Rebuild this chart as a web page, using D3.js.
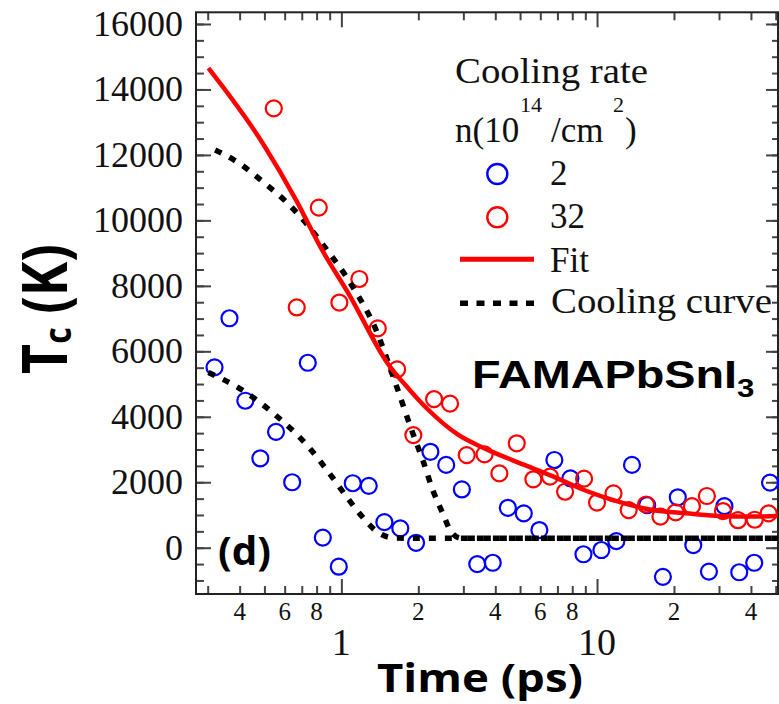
<!DOCTYPE html>
<html>
<head>
<meta charset="utf-8">
<script src="https://cdn.jsdelivr.net/npm/d3@7"></script>
<style>
  html, body { margin: 0; padding: 0; background: #fff; }
  svg { display: block; }
</style>
</head>
<body>
<div id="chart"></div>
<script>
// measured data, time in ps, temperature in K
const blueTime = [0.319, 0.365, 0.421, 0.482, 0.555, 0.642, 0.739, 0.846, 0.977, 1.108, 1.28, 1.473, 1.70, 1.96,
    2.23, 2.57, 2.96, 3.40, 3.91, 4.48, 5.17, 5.95, 6.81, 7.87, 8.85, 10.4, 11.9, 13.7, 15.7, 18.1, 20.7, 23.8,
    27.4, 31.5, 36.0, 41.2, 47.5];
const blueTemp = [5510, 7010, 4490, 2730, 3540, 2000, 5650, 310, -580, 1970, 1890, 780, 590, 150,
    2930, 2530, 1780, -500, -460, 1220, 1050, 540, 2680, 2120, -200, -70, 200, 2530, 1300, -890, 1540, 80,
    -730, 1270, -750, -460, 1990];

const redTime = [0.544, 0.669, 0.816, 0.982, 1.176, 1.388, 1.652, 1.912, 2.305, 2.661, 3.093, 3.631, 4.15, 4.853,
    5.636, 6.547, 7.50, 8.90, 10.0, 11.6, 13.3, 15.55, 17.7, 20.3, 23.5, 26.9, 31.1, 35.6, 41.4, 46.9];
const redTemp = [13420, 7340, 10390, 7490, 8210, 6700, 5450, 3440, 4540, 4400, 2830, 2850, 2270, 3190,
    2090, 2170, 1710, 2110, 1380, 1660, 1150, 1320, 950, 1080, 1270, 1580, 1120, 840, 855, 1050];

const fitTime = [0.302, 0.493, 0.665, 0.833, 1.075, 1.518, 1.85, 2.177, 2.85, 3.74, 5.2, 7.0, 9.05, 12.2, 16.5, 22.3, 30.1, 40.5, 50.9];
const fitTemp = [14650, 12350, 10620, 9150, 7720, 5630, 4820, 4230, 3460, 2990, 2530, 2120, 1740, 1400, 1150, 1050, 970, 950, 970];

const coolHiTime = [0.302, 0.399, 0.493, 0.608, 0.728, 0.858, 1.108, 1.367, 1.612, 1.902, 2.081, 2.278, 2.492, 2.686, 2.94, 3.19, 51];
const coolHiTemp = [12250, 11740, 11180, 10570, 9910, 9200, 7970, 6650, 5120, 3500, 2680, 1760, 1050, 490, 290, 290, 290];

const coolLoTime = [0.302, 0.399, 0.555, 0.761, 0.898, 1.059, 1.176, 1.408, 1.62, 1.85, 51];
const coolLoTemp = [5350, 4870, 4040, 2990, 2270, 1510, 1050, 440, 296, 290, 290];

const yMajorTicks = [0, 2000, 4000, 6000, 8000, 10000, 12000, 14000, 16000];
const yMinorTicks = d3.range(-1000, 16001, 500);
const xMajorTicks = [1, 10];
const xMinorTicks = [0.3, 0.4, 0.5, 0.6, 0.7, 0.8, 0.9, 2, 3, 4, 5, 6, 7, 8, 9, 20, 30, 40, 50];
const xMinorLabelValues = [0.4, 0.6, 0.8, 2, 4, 6, 8, 20, 40];
const xMinorLabelText = ['4', '6', '8', '2', '4', '6', '8', '2', '4'];
const xMajorLabelText = ['1', '10'];

const W = 779, H = 704;
const plotLeft = 196, plotRight = 778, plotTop = 12.3, plotBottom = 594;

const svg = d3.select('#chart').append('svg')
    .attr('width', W)
    .attr('height', H);

const x = d3.scaleLog().domain([0.27, 51.04]).range([plotLeft, plotRight]);
const y = d3.scaleLinear().domain([-1414, 16357]).range([plotBottom, plotTop]);

const serif = 'Liberation Serif, Times New Roman, serif';
const sans = 'Open Sans, Liberation Sans, Arial, sans-serif';

// axes: all ticks point inward
function styleAxis(g) {
    g.select('.domain').remove();
    g.selectAll('.tick line').attr('stroke', '#444').attr('stroke-width', 2);
}

svg.append('g').attr('transform', `translate(${plotLeft},0)`)
    .call(d3.axisLeft(y).tickValues(yMinorTicks).tickSize(-8).tickFormat(''))
    .call(styleAxis);
svg.append('g').attr('transform', `translate(${plotLeft},0)`)
    .call(d3.axisLeft(y).tickValues(yMajorTicks).tickSize(-15).tickPadding(13).tickFormat(d3.format('d')))
    .call(styleAxis)
    .call(g => g.selectAll('.tick text')
        .attr('font-family', serif).attr('font-size', 36).attr('fill', '#111'));
svg.append('g').attr('transform', `translate(${plotRight},0)`)
    .call(d3.axisRight(y).tickValues(yMinorTicks).tickSize(-6).tickFormat(''))
    .call(styleAxis);
svg.append('g').attr('transform', `translate(${plotRight},0)`)
    .call(d3.axisRight(y).tickValues(yMajorTicks).tickSize(-12).tickFormat(''))
    .call(styleAxis);

svg.append('g').attr('transform', `translate(0,${plotBottom})`)
    .call(d3.axisBottom(x).tickValues(xMinorTicks).tickSize(-8).tickFormat(''))
    .call(styleAxis);
svg.append('g').attr('transform', `translate(0,${plotBottom})`)
    .call(d3.axisBottom(x).tickValues(xMajorTicks).tickSize(-15).tickFormat(''))
    .call(styleAxis);
svg.append('g').attr('transform', `translate(0,${plotTop})`)
    .call(d3.axisTop(x).tickValues(xMinorTicks).tickSize(-8).tickFormat(''))
    .call(styleAxis);
svg.append('g').attr('transform', `translate(0,${plotTop})`)
    .call(d3.axisTop(x).tickValues(xMajorTicks).tickSize(-15).tickFormat(''))
    .call(styleAxis);

// frame
svg.append('rect')
    .attr('x', plotLeft).attr('y', plotTop)
    .attr('width', plotRight - plotLeft).attr('height', plotBottom - plotTop)
    .attr('fill', 'none').attr('stroke', '#222').attr('stroke-width', 2);

// x tick labels
svg.append('g').selectAll('text')
    .data(xMinorLabelValues)
    .join('text')
    .attr('x', d => x(d))
    .attr('y', 620)
    .attr('text-anchor', 'middle')
    .attr('font-family', serif).attr('font-size', 25).attr('fill', '#111')
    .text((d, i) => xMinorLabelText[i]);
svg.append('g').selectAll('text')
    .data(xMajorTicks)
    .join('text')
    .attr('x', d => x(d))
    .attr('y', 655)
    .attr('text-anchor', 'middle')
    .attr('font-family', serif).attr('font-size', 38).attr('fill', '#111')
    .text((d, i) => xMajorLabelText[i]);

// data points
const blue = blueTime.map((t, i) => ({ t, v: blueTemp[i] }));
const red = redTime.map((t, i) => ({ t, v: redTemp[i] }));

svg.append('g').selectAll('circle')
    .data(blue)
    .join('circle')
    .attr('cx', d => x(d.t)).attr('cy', d => y(d.v)).attr('r', 8)
    .attr('fill', 'none').attr('stroke', '#0000ff').attr('stroke-width', 2.2);
svg.append('g').selectAll('circle')
    .data(red)
    .join('circle')
    .attr('cx', d => x(d.t)).attr('cy', d => y(d.v)).attr('r', 8)
    .attr('fill', 'none').attr('stroke', '#ff0000').attr('stroke-width', 2.2);

// curves
const line = d3.line()
    .x(d => x(d[0]))
    .y(d => y(d[1]))
    .curve(d3.curveMonotoneX);

const dashStyle = g => g.attr('fill', 'none').attr('stroke', '#000')
    .attr('stroke-width', 5.5).attr('stroke-dasharray', '7,9');

const coolHi = svg.append('path')
    .datum(coolHiTime.map((t, i) => [t, coolHiTemp[i]]))
    .attr('d', line)
    .call(dashStyle);
const coolLo = svg.append('path')
    .datum(coolLoTime.map((t, i) => [t, coolLoTemp[i]]))
    .attr('d', line)
    .call(dashStyle);

// both curves share the plateau; shift the dash phase so they overlap into long dashes
function lengthAtX(node, px) {
    let lo = 0, hi = node.getTotalLength();
    for (let k = 0; k < 40; k++) {
        const mid = (lo + hi) / 2;
        if (node.getPointAtLength(mid).x < px) lo = mid; else hi = mid;
    }
    return lo;
}
const x0 = x(5);
const lenLo = lengthAtX(coolLo.node(), x0);
const lenHi = lengthAtX(coolHi.node(), x0);
coolHi.attr('stroke-dashoffset', (((lenLo - 7 - lenHi) % 16) + 16) % 16);

svg.append('path')
    .datum(fitTime.map((t, i) => [t, fitTemp[i]]))
    .attr('d', line)
    .attr('fill', 'none').attr('stroke', '#ff0000').attr('stroke-width', 4.5);

// legend
const legend = svg.append('g').attr('font-family', serif).attr('fill', '#111');
legend.append('text').attr('x', 455).attr('y', 83).attr('font-size', 35)
    .attr('textLength', 193).attr('lengthAdjust', 'spacingAndGlyphs').text('Cooling rate');
legend.append('text').attr('x', 455).attr('y', 141.7).attr('font-size', 35).text('n(10');
legend.append('text').attr('x', 520).attr('y', 112).attr('font-size', 22).text('14');
legend.append('text').attr('x', 551).attr('y', 141.7).attr('font-size', 35).text('/cm');
legend.append('text').attr('x', 613).attr('y', 112).attr('font-size', 22).text('2');
legend.append('text').attr('x', 625).attr('y', 141.7).attr('font-size', 35).text(')');

legend.append('circle').attr('cx', 497.3).attr('cy', 174).attr('r', 10)
    .attr('fill', 'none').attr('stroke', '#0000ff').attr('stroke-width', 2.4);
legend.append('text').attr('x', 550).attr('y', 185).attr('font-size', 35).text('2');
legend.append('circle').attr('cx', 497.3).attr('cy', 217.3).attr('r', 10)
    .attr('fill', 'none').attr('stroke', '#ff0000').attr('stroke-width', 2.4);
legend.append('text').attr('x', 550).attr('y', 228.3).attr('font-size', 35).text('32');
legend.append('line').attr('x1', 460).attr('x2', 534).attr('y1', 259.3).attr('y2', 259.3)
    .attr('stroke', '#ff0000').attr('stroke-width', 5);
legend.append('text').attr('x', 550).attr('y', 271.7).attr('font-size', 35).text('Fit');
legend.append('line').attr('x1', 460).attr('x2', 534).attr('y1', 303.3).attr('y2', 303.3)
    .attr('stroke', '#000').attr('stroke-width', 5.5).attr('stroke-dasharray', '8,8.5');
legend.append('text').attr('x', 551).attr('y', 313.3).attr('font-size', 35)
    .attr('textLength', 221).attr('lengthAdjust', 'spacingAndGlyphs').text('Cooling curve');

// material label
const mat = svg.append('text')
    .attr('transform', 'translate(472,388) scale(1.2,1)')
    .attr('font-family', 'Liberation Sans, Arial, sans-serif')
    .attr('font-weight', 'bold').attr('font-size', 39).attr('fill', '#000');
mat.append('tspan').text('FAMAPbSnI');
mat.append('tspan').attr('font-size', 26).attr('dy', 9).text('3');

// panel tag
svg.append('text').attr('x', 218).attr('y', 565)
    .attr('font-family', sans).attr('font-weight', 'bold').attr('font-size', 40)
    .attr('textLength', 53).attr('lengthAdjust', 'spacingAndGlyphs').text('(d)');

// axis titles
svg.append('text').attr('x', 377).attr('y', 692)
    .attr('font-family', sans).attr('font-weight', 'bold').attr('font-size', 40)
    .attr('textLength', 206).attr('lengthAdjust', 'spacingAndGlyphs').text('Time (ps)');

const yTitle = svg.append('text')
    .attr('transform', 'translate(67,309) rotate(-90) scale(1,1.2)')
    .attr('text-anchor', 'middle')
    .attr('font-family', sans).attr('font-weight', 'bold').attr('font-size', 52).attr('fill', '#000');
yTitle.append('tspan').text('T');
yTitle.append('tspan').attr('font-size', 32).attr('dy', 3).text('c');
yTitle.append('tspan').attr('dy', -3).text(' (K)');
</script>
</body>
</html>
